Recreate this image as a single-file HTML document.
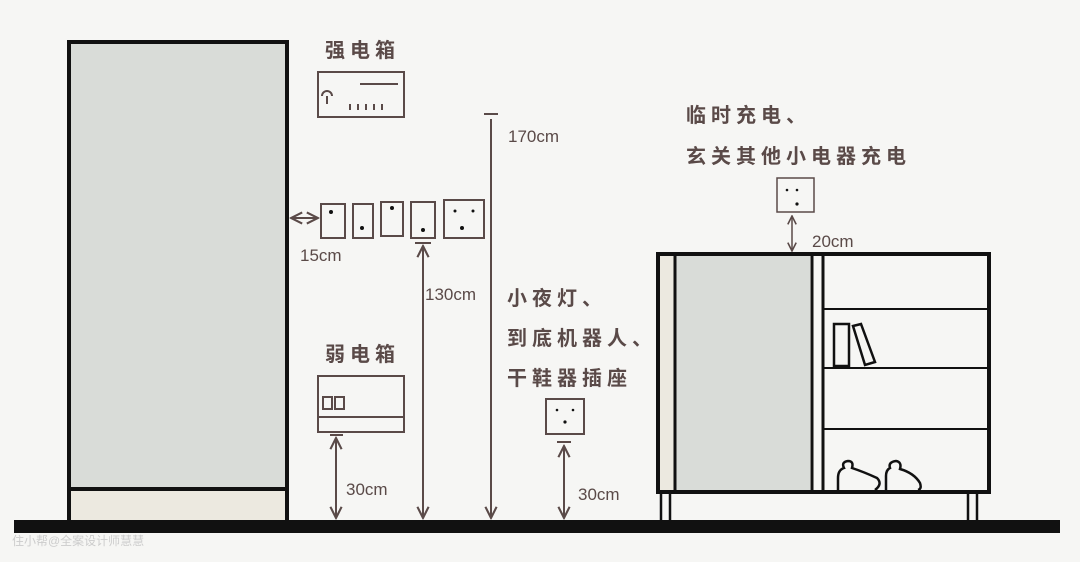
<!DOCTYPE html>
<html><head><meta charset="utf-8"><style>
html,body{margin:0;padding:0;background:#f6f6f4;}
svg{display:block;}
text{font-family:"Liberation Sans","Noto Sans CJK SC",sans-serif;fill:#5a4a48;}
.cn{font-weight:bold;font-size:20px;letter-spacing:5px;}
.cm{font-size:17px;}
</style></head><body>
<svg width="1080" height="562" viewBox="0 0 1080 562" xmlns="http://www.w3.org/2000/svg">
<defs>
<marker id="a" viewBox="0 0 10 10" refX="9" refY="5" markerWidth="7" markerHeight="7" orient="auto-start-reverse"><path d="M1 1 L9 5 L1 9" fill="none" stroke="#5a4a48" stroke-width="1.5"/></marker>
</defs>
<rect width="1080" height="562" fill="#f6f6f4"/>
<rect x="70" y="44" width="216" height="446" fill="#d9dcd8"/>
<rect x="70" y="490" width="216" height="30" fill="#ece9e0"/>
<rect x="69" y="42" width="218" height="480" fill="none" stroke="#111" stroke-width="4"/>
<line x1="69" y1="489" x2="287" y2="489" stroke="#111" stroke-width="4"/>
<rect x="14" y="520" width="1046" height="13" fill="#111"/>
<text x="12" y="545" style="font-size:12px;fill:#ccc">住小帮@全案设计师慧慧</text>
<g stroke="#5a4a48" fill="none" stroke-width="2">
<rect x="318" y="72" width="86" height="45"/>
<path d="M322 96 a5 5 0 0 1 10 0 M327 96 v8 M360 84 h38 M350 104v6 M358 104v6 M366 104v6 M374 104v6 M382 104v6"/>
<rect x="321" y="204" width="24" height="34"/>
<rect x="353" y="204" width="20" height="34"/>
<rect x="381" y="202" width="22" height="34"/>
<rect x="411" y="202" width="24" height="36"/>
<rect x="444" y="200" width="40" height="38"/>
<line x1="291" y1="218" x2="318" y2="218" marker-start="url(#a)" marker-end="url(#a)"/>
<line x1="415" y1="243" x2="431" y2="243"/>
<line x1="423" y1="246" x2="423" y2="518" marker-start="url(#a)" marker-end="url(#a)"/>
<line x1="484" y1="114" x2="498" y2="114"/>
<line x1="491" y1="119" x2="491" y2="518" marker-end="url(#a)"/>
<rect x="318" y="376" width="86" height="56"/>
<path d="M318 417 h86 M323 397h9v12h-9z M335 397h9v12h-9z"/>
<line x1="330" y1="435" x2="343" y2="435"/>
<line x1="336" y1="438" x2="336" y2="518" marker-start="url(#a)" marker-end="url(#a)"/>
<rect x="546" y="399" width="38" height="35"/>
<line x1="557" y1="442" x2="571" y2="442"/>
<line x1="564" y1="446" x2="564" y2="518" marker-start="url(#a)" marker-end="url(#a)"/>
<rect x="777" y="178" width="37" height="34" stroke-width="1.5"/>
<line x1="792" y1="216" x2="792" y2="251" marker-start="url(#a)" marker-end="url(#a)" stroke-width="1.5"/>
</g>
<g fill="#111">
<circle cx="331" cy="212" r="2"/><circle cx="362" cy="228" r="2"/><circle cx="392" cy="208" r="2"/><circle cx="423" cy="230" r="2"/>
<circle cx="455" cy="211" r="1.5"/><circle cx="473" cy="211" r="1.5"/><circle cx="462" cy="228" r="2"/>
<circle cx="557" cy="410" r="1.3"/><circle cx="573" cy="410" r="1.3"/><circle cx="565" cy="422" r="1.6"/>
<circle cx="787" cy="190" r="1.3"/><circle cx="797" cy="190" r="1.3"/><circle cx="797" cy="204" r="1.6"/>
</g>
<rect x="660" y="256" width="15" height="234" fill="#ece9e0"/>
<rect x="676" y="256" width="134" height="234" fill="#d9dcd8"/>
<g stroke="#111" fill="none">
<rect x="658" y="254" width="331" height="238" stroke-width="4"/>
<line x1="675" y1="254" x2="675" y2="492" stroke-width="3"/>
<line x1="812" y1="254" x2="812" y2="492" stroke-width="3"/>
<line x1="823" y1="254" x2="823" y2="492" stroke-width="3"/>
<line x1="823" y1="309" x2="989" y2="309" stroke-width="2"/>
<line x1="823" y1="368" x2="989" y2="368" stroke-width="2"/>
<line x1="823" y1="429" x2="989" y2="429" stroke-width="2"/>
<path d="M661 492 v28 M670 492 v28 M968 492 v28 M977 492 v28" stroke-width="2.5"/>
<path d="M834 324 h15 v42 h-15z M853 326 l8 -2 l14 38 l-10 3z" stroke-width="2.5"/>
<path d="M838 490 v-12 q0 -8 6 -10 q-3 -6 4 -7 q6 0 4 7 q12 4 25 10 q6 6 -2 12 M886 490 v-14 q0 -6 4 -8 q-2 -6 6 -7 q6 1 4 8 q14 4 20 14 q2 6 -2 7" stroke-width="2.5"/>
</g>
<text x="325" y="57" class="cn">强电箱</text>
<text x="325" y="361" class="cn">弱电箱</text>
<text x="508" y="142" class="cm">170cm</text>
<text x="300" y="261" class="cm">15cm</text>
<text x="425" y="300" class="cm">130cm</text>
<text x="346" y="495" class="cm">30cm</text>
<text x="578" y="500" class="cm">30cm</text>
<text x="812" y="247" class="cm">20cm</text>
<text x="507" y="305" class="cn">小夜灯、</text>
<text x="507" y="345" class="cn">到底机器人、</text>
<text x="507" y="385" class="cn">干鞋器插座</text>
<text x="686" y="122" class="cn">临时充电、</text>
<text x="686" y="163" class="cn">玄关其他小电器充电</text>
</svg>
</body></html>
